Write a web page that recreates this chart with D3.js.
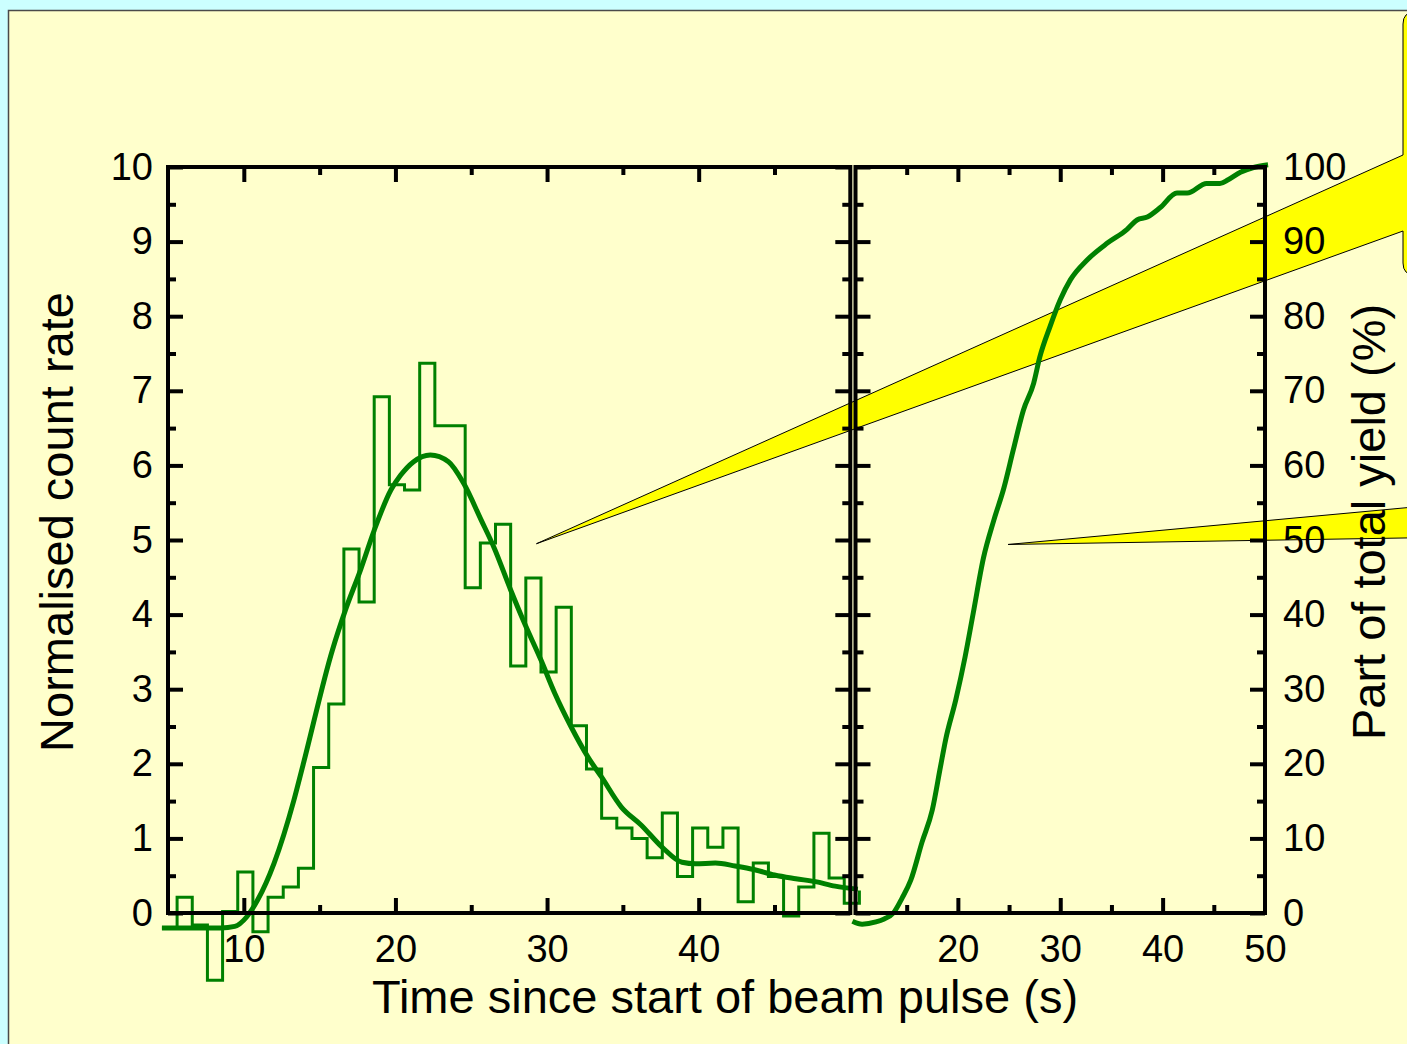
<!DOCTYPE html>
<html>
<head>
<meta charset="utf-8">
<script src="https://cdn.jsdelivr.net/npm/d3@7"></script>
<style>
html, body { margin: 0; padding: 0; background: #ccffff; overflow: hidden; }
svg { display: block; }
text { font-family: "Liberation Sans", Arial, Helvetica, sans-serif; fill: #000; }
</style>
</head>
<body>
<svg id="chart"></svg>
<script>
// histogram of count rate, 1 s bins starting at 4.6 s (last entry = level the step ends on)
const histStart = 4.6
const binWidth = 1
const histCounts = [-0.2, 0.21, -0.16, -0.9, 0.02, 0.55, -0.25, 0.21, 0.35, 0.6,
    1.95, 2.8, 4.88, 4.17, 6.92, 5.74, 5.67, 7.37, 6.53, 6.53,
    4.36, 4.96, 5.21, 3.31, 4.49, 3.23, 4.1, 2.51, 1.93, 1.27,
    1.14, 1.0, 0.74, 1.34, 0.49, 1.14, 0.88, 1.14, 0.15, 0.67,
    0.49, -0.04, 0.35, 1.07, 0.47, 0.13, 0.3]

// smooth fit through the histogram
const fitTime = [4.6, 6.5, 8.5, 9.4, 10.2, 10.9, 12.0, 13.3, 13.9, 15.85, 16.7, 17.7, 18.6, 19.7, 20.35,
    21.2, 22.3, 23.5, 24.5, 25.65, 26.5, 27.6, 28.5, 29.6, 30.5, 31.6, 32.7, 33.6, 34.9, 36.2,
    37.6, 38.9, 39.8, 41.1, 42.4, 43.7, 45.0, 46.4, 47.7, 49.0, 50.5]
const fitRate = [-0.2, -0.2, -0.2, -0.18, -0.05, 0.17, 0.67, 1.51, 1.98, 3.53, 4.06, 4.6, 5.13, 5.67, 5.87,
    6.05, 6.14, 6.05, 5.76, 5.27, 4.9, 4.33, 3.89, 3.39, 2.95, 2.49, 2.09, 1.82, 1.42, 1.18,
    0.88, 0.68, 0.66, 0.67, 0.63, 0.58, 0.51, 0.46, 0.42, 0.36, 0.32]

// cumulative part of total yield (%)
const yieldTime = [9.7, 10.65, 12.0, 12.8, 13.7, 14.55, 15.4, 16.5, 17.5, 18.3, 18.8, 19.8, 20.7, 21.5,
    22.5, 23.5, 24.5, 25.4, 26.4, 27.4, 28.0, 29.0, 30.0, 31.0, 32.6, 34.6, 36.5, 37.5, 38.5,
    39.8, 41.4, 42.4, 44.3, 45.6, 46.4, 47.6, 48.8, 50.3]
const yieldPct = [-1.1, -1.5, -1.2, -0.8, 0, 2.0, 4.4, 9.5, 13.8, 19.6, 23.2, 28.6, 34.3, 40.2,
    47.6, 52.6, 57, 62, 67.4, 71, 74.5, 78.6, 82.2, 84.9, 87.5, 89.8, 91.6, 92.9, 93.3,
    94.6, 96.5, 96.5, 97.8, 97.8, 98.3, 99.3, 99.9, 100.3]

// tick values
const leftXLabels = [10, 20, 30, 40]
const rightXLabels = [20, 30, 40, 50]
const leftXMajor = [10, 20, 30, 40]
const leftXMinor = [15, 25, 35, 45]
const rightXMajor = [20, 30, 40]
const rightXMinor = [15, 25, 35, 45]
const rateMajor = [0, 1, 2, 3, 4, 5, 6, 7, 8, 9, 10]
const rateMinor = [0.5, 1.5, 2.5, 3.5, 4.5, 5.5, 6.5, 7.5, 8.5, 9.5]
const pctMajor = [0, 10, 20, 30, 40, 50, 60, 70, 80, 90, 100]
const pctMinor = [5, 15, 25, 35, 45, 55, 65, 75, 85, 95]

// callout tips (data coordinates)
const tipRate = { t: 29.3, v: 4.95 }
const tipYield = { t: 24.9, v: 49.4 }

//----------------------------------------------------------------------------
const width = 1407
const height = 1044
const green = "#008000"

const svg = d3.select("#chart")
    .attr("width", width)
    .attr("height", height)

const plotTop = 167, plotBottom = 913
const titleMid = 522

const xL = d3.scaleLinear().domain([5, 50]).range([168, 850.3])
const yL = d3.scaleLinear().domain([0, 10]).range([plotBottom, plotTop])
const xR = d3.scaleLinear().domain([10, 50]).range([855.5, 1265])
const yR = d3.scaleLinear().domain([0, 100]).range([plotBottom, plotTop])

//background panel
svg.append("rect")
    .attr("x", 8.5).attr("y", 10.5)
    .attr("width", 1500).attr("height", 1100)
    .attr("fill", "#ffffcc")
    .attr("stroke", "#4a4a4a")
    .attr("stroke-width", 1.5)

//----------------------------------------------------------------------------
//callouts (yellow box + wedges)
const tip1 = [xL(tipRate.t), yL(tipRate.v)]
const tip2 = [xR(tipYield.t), yR(tipYield.v)]

svg.append("path")
    .attr("d", `M1520,12 H1415 Q1403,12 1403,24 V155 L${tip1[0]},${tip1[1]} L1403,231 V263 Q1403,275 1415,275 H1520 Z`)
    .attr("fill", "#ffff00")
    .attr("stroke", "#000")
    .attr("stroke-width", 1)

svg.append("path")
    .attr("d", `M1440,504.6 L${tip2[0]},${tip2[1]} L1440,537.4 Z`)
    .attr("fill", "#ffff00")
    .attr("stroke", "#000")
    .attr("stroke-width", 1)

//----------------------------------------------------------------------------
//histogram as step line
const histPoints = histCounts.map((d, i) => [histStart + i * binWidth, d])

svg.append("path")
    .datum(histPoints)
    .attr("d", d3.line()
        .x(d => xL(d[0]))
        .y(d => yL(d[1]))
        .curve(d3.curveStepAfter))
    .attr("fill", "none")
    .attr("stroke", green)
    .attr("stroke-width", 3)

//fit curve
svg.append("path")
    .datum(d3.zip(fitTime, fitRate))
    .attr("d", d3.line()
        .x(d => xL(d[0]))
        .y(d => yL(d[1]))
        .curve(d3.curveMonotoneX))
    .attr("fill", "none")
    .attr("stroke", green)
    .attr("stroke-width", 5)
    .attr("stroke-linejoin", "round")

//cumulative yield
svg.append("path")
    .datum(d3.zip(yieldTime, yieldPct))
    .attr("d", d3.line()
        .x(d => xR(d[0]))
        .y(d => yR(d[1]))
        .curve(d3.curveMonotoneX))
    .attr("fill", "none")
    .attr("stroke", green)
    .attr("stroke-width", 5)
    .attr("stroke-linejoin", "round")

//----------------------------------------------------------------------------
//ticks
function ticks(axis, values, size, translate) {
    const g = svg.append("g").attr("transform", translate)
    g.call(axis.tickValues(values).tickSize(-size).tickFormat(""))
    g.select(".domain").remove()
    g.selectAll(".tick line").attr("stroke", "#000").attr("stroke-width", 4)
    g.selectAll(".tick text").remove()
}

const major = 15, minor = 8

//left panel
ticks(d3.axisBottom(xL), leftXMajor, major, `translate(0,${plotBottom})`)
ticks(d3.axisBottom(xL), leftXMinor, minor, `translate(0,${plotBottom})`)
ticks(d3.axisTop(xL), leftXMajor, major, `translate(0,${plotTop})`)
ticks(d3.axisTop(xL), leftXMinor, minor, `translate(0,${plotTop})`)
ticks(d3.axisLeft(yL), rateMajor, major, `translate(${xL.range()[0]},0)`)
ticks(d3.axisLeft(yL), rateMinor, minor, `translate(${xL.range()[0]},0)`)
ticks(d3.axisRight(yL), rateMajor, major, `translate(${xL.range()[1]},0)`)
ticks(d3.axisRight(yL), rateMinor, minor, `translate(${xL.range()[1]},0)`)

//right panel
ticks(d3.axisBottom(xR), rightXMajor, major, `translate(0,${plotBottom})`)
ticks(d3.axisBottom(xR), rightXMinor, minor, `translate(0,${plotBottom})`)
ticks(d3.axisTop(xR), rightXMajor, major, `translate(0,${plotTop})`)
ticks(d3.axisTop(xR), rightXMinor, minor, `translate(0,${plotTop})`)
ticks(d3.axisLeft(yR), pctMajor, major, `translate(${xR.range()[0]},0)`)
ticks(d3.axisLeft(yR), pctMinor, minor, `translate(${xR.range()[0]},0)`)
ticks(d3.axisRight(yR), pctMajor, major, `translate(${xR.range()[1]},0)`)
ticks(d3.axisRight(yR), pctMinor, minor, `translate(${xR.range()[1]},0)`)

//frames
svg.append("rect")
    .attr("x", xL.range()[0]).attr("y", plotTop)
    .attr("width", xL.range()[1] - xL.range()[0]).attr("height", plotBottom - plotTop)
    .attr("fill", "none").attr("stroke", "#000").attr("stroke-width", 4)

svg.append("rect")
    .attr("x", xR.range()[0]).attr("y", plotTop)
    .attr("width", xR.range()[1] - xR.range()[0]).attr("height", plotBottom - plotTop)
    .attr("fill", "none").attr("stroke", "#000").attr("stroke-width", 4)

//----------------------------------------------------------------------------
//tick labels
function labels(axis, values, pad, translate) {
    const g = svg.append("g").attr("transform", translate)
    g.call(axis.tickValues(values).tickSize(0).tickPadding(pad).tickFormat(d3.format("d")))
    g.select(".domain").remove()
    g.selectAll(".tick line").remove()
    g.selectAll(".tick text")
        .attr("fill", "#000")
        .style("font-size", "38px")
        .style("font-family", '"Liberation Sans", Arial, sans-serif')
}

labels(d3.axisBottom(xL), leftXLabels, 22, `translate(0,${plotBottom})`)
labels(d3.axisBottom(xR), rightXLabels, 22, `translate(0,${plotBottom})`)
labels(d3.axisLeft(yL), rateMajor, 15, `translate(${xL.range()[0]},0)`)
labels(d3.axisRight(yR), pctMajor, 18, `translate(${xR.range()[1]},0)`)

//axis titles
svg.append("text")
    .attr("x", 725).attr("y", 1013)
    .attr("text-anchor", "middle")
    .style("font-size", "47px")
    .text("Time since start of beam pulse (s)")

svg.append("text")
    .attr("transform", `translate(73,${titleMid}) rotate(-90)`)
    .attr("text-anchor", "middle")
    .style("font-size", "47px")
    .text("Normalised count rate")

svg.append("text")
    .attr("transform", `translate(1385,${titleMid}) rotate(-90)`)
    .attr("text-anchor", "middle")
    .style("font-size", "47px")
    .text("Part of total yield (%)")
</script>
</body>
</html>
